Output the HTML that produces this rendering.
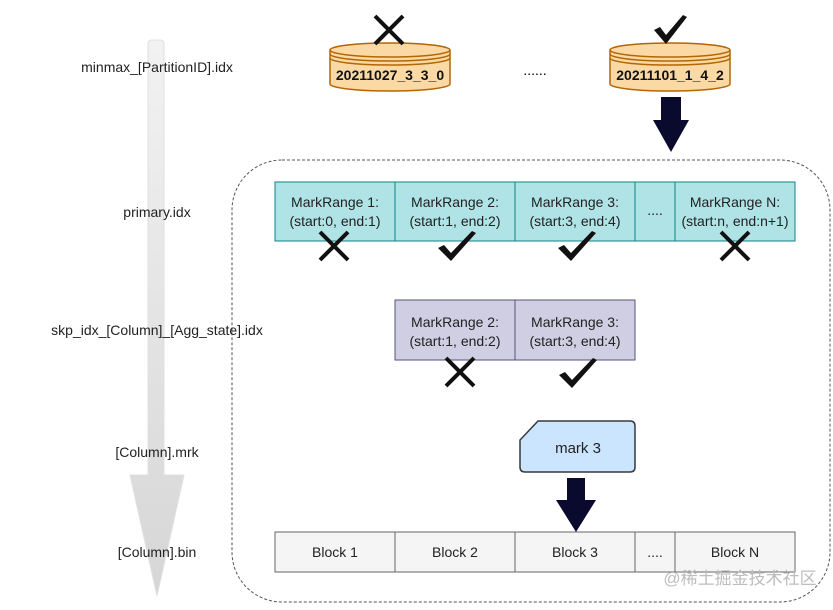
<!DOCTYPE html>
<html><head><meta charset="utf-8"><style>
body{margin:0;width:833px;height:605px;background:#fff;overflow:hidden;font-family:"Liberation Sans","Noto Sans CJK SC",sans-serif}
</style></head><body>
<svg width="833" height="605" viewBox="0 0 833 605" xmlns="http://www.w3.org/2000/svg" font-family="Liberation Sans, Noto Sans CJK SC, sans-serif">
<defs>
<linearGradient id="g" x1="0" y1="0" x2="0" y2="1"><stop offset="0" stop-color="#f2f2f2"/><stop offset="1" stop-color="#d6d6d6"/></linearGradient>
</defs>
<path d="M148,44 Q148,40 152,40 L160,40 Q164,40 164,44 L164,475 L184,475 L157,596 L130,475 L148,475 Z" fill="url(#g)" stroke="#e0e0e0"/>
<rect x="232" y="160" width="598" height="442" rx="50" fill="none" stroke="#555" stroke-dasharray="3,2"/>
<g font-size="14" fill="#222" text-anchor="middle">
<text x="157" y="72">minmax_[PartitionID].idx</text>
<text x="157" y="217">primary.idx</text>
<text x="157" y="335">skp_idx_[Column]_[Agg_state].idx</text>
<text x="157" y="457">[Column].mrk</text>
<text x="157" y="557">[Column].bin</text>
</g>
<g stroke="#b46504" stroke-width="1.5" fill="#fad9a5">
<path d="M330,50 L330,84 A60,7 0 0 0 450,84 L450,50"/>
<ellipse cx="390" cy="50" rx="60" ry="7"/>
<path d="M330,54 A60,7 0 0 0 450,54 M330,58 A60,7 0 0 0 450,58" fill="none"/>
<path d="M610,50 L610,84 A60,7 0 0 0 730,84 L730,50"/>
<ellipse cx="670" cy="50" rx="60" ry="7"/>
<path d="M610,54 A60,7 0 0 0 730,54 M610,58 A60,7 0 0 0 730,58" fill="none"/>
</g>
<g font-size="14" font-weight="bold" fill="#111" text-anchor="middle">
<text x="390" y="80">20211027_3_3_0</text>
<text x="670" y="80">20211101_1_4_2</text>
</g>
<text x="535" y="75" font-size="14" text-anchor="middle">......</text>
<path d="M661,97 L681,97 L681,120 L689,120 L671,152 L653,120 L661,120 Z" fill="#0a0a2e"/>
<path d="M567,478 L585,478 L585,500 L596,500 L576,532 L556,500 L567,500 Z" fill="#0a0a2e"/>
<g stroke="#0e8088" fill="#b0e3e6">
<rect x="275" y="182" width="120" height="59"/><rect x="395" y="182" width="120" height="59"/><rect x="515" y="182" width="120" height="59"/><rect x="635" y="182" width="40" height="59"/><rect x="675" y="182" width="120" height="59"/>
</g>
<g font-size="14" fill="#222" text-anchor="middle">
<text x="335" y="207">MarkRange 1:</text><text x="335" y="226">(start:0, end:1)</text>
<text x="455" y="207">MarkRange 2:</text><text x="455" y="226">(start:1, end:2)</text>
<text x="575" y="207">MarkRange 3:</text><text x="575" y="226">(start:3, end:4)</text>
<text x="655" y="215">....</text>
<text x="735" y="207">MarkRange N:</text><text x="735" y="226">(start:n, end:n+1)</text>
</g>
<g stroke="#56517e" fill="#d0cee2">
<rect x="395" y="300" width="120" height="60"/><rect x="515" y="300" width="120" height="60"/>
</g>
<g font-size="14" fill="#222" text-anchor="middle">
<text x="455" y="327">MarkRange 2:</text><text x="455" y="346">(start:1, end:2)</text>
<text x="575" y="327">MarkRange 3:</text><text x="575" y="346">(start:3, end:4)</text>
</g>
<path d="M538,421 L630,421 Q635,421 635,426 L635,467 Q635,472 630,472 L525,472 Q520,472 520,467 L520,440 Z" fill="#cce5ff" stroke="#36393d" stroke-width="1.5"/>
<text x="578" y="453" font-size="15" text-anchor="middle" fill="#222">mark 3</text>
<g stroke="#666" fill="#f5f5f5">
<rect x="275" y="532" width="120" height="40"/><rect x="395" y="532" width="120" height="40"/><rect x="515" y="532" width="120" height="40"/><rect x="635" y="532" width="40" height="40"/><rect x="675" y="532" width="120" height="40"/>
</g>
<g font-size="14" fill="#222" text-anchor="middle">
<text x="335" y="557">Block 1</text><text x="455" y="557">Block 2</text><text x="575" y="557">Block 3</text><text x="655" y="557">....</text><text x="735" y="557">Block N</text>
</g>
<text x="740" y="584" font-size="17" text-anchor="middle" fill="#bdbdbd">@稀土掘金技术社区</text>
<!-- marks on top -->
<g stroke="#111" stroke-width="4" fill="none">
<path d="M375,16 L403,44 M403,16 L375,44"/>
<path d="M320,232 L348,260 M348,232 L320,260"/>
<path d="M721,232 L749,260 M749,232 L721,260"/>
<path d="M446,358 L474,386 M474,358 L446,386"/>
</g>
<g fill="#111">
<path d="M654,30 L660,27 L666,35 L683,15 L687,17 L666,44 Z"/>
<path d="M438,248 L444,245 L451,253 L472,231 L476,233 L451,261 Z"/>
<path d="M558,248 L564,245 L571,253 L592,231 L596,233 L571,261 Z"/>
<path d="M559,375 L565,372 L572,380 L593,358 L597,360 L572,388 Z"/>
</g>
</svg>
</body></html>
